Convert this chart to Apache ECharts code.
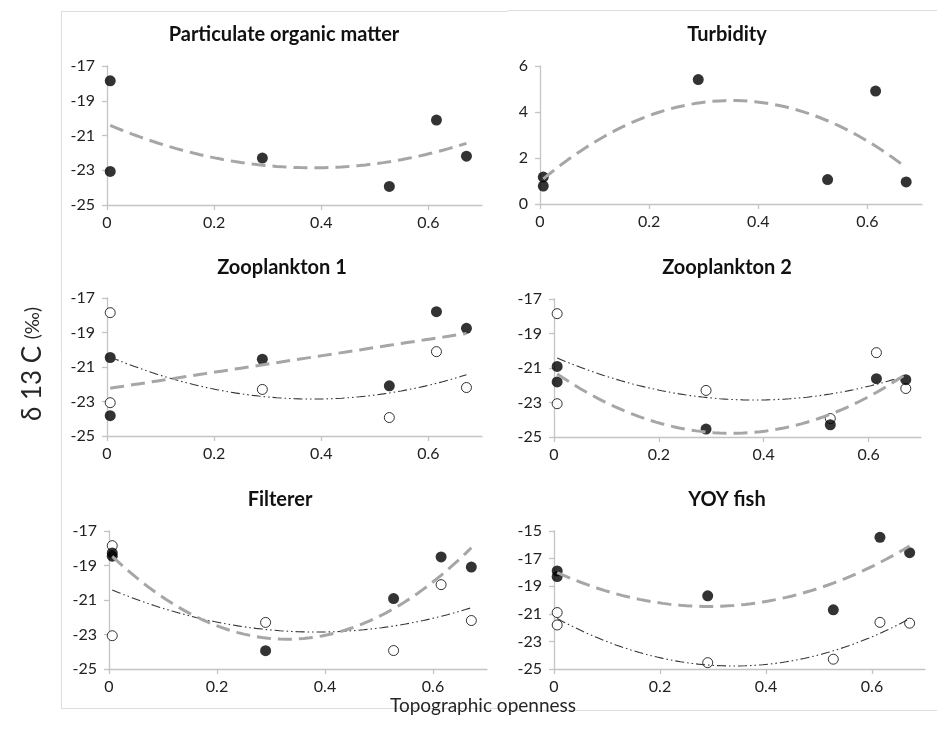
<!DOCTYPE html>
<html><head><meta charset="utf-8">
<script src="https://cdn.jsdelivr.net/npm/echarts@6/dist/echarts.min.js"></script>
<style>html,body{margin:0;padding:0;background:#fff}#c{width:937px;height:747px}</style>
</head><body><div id="c"></div>
<script>
// ---- data ----
const siteX      = [0.006, 0.006, 0.290, 0.527, 0.615, 0.671];
const pom        = [-17.85, -23.07, -22.30, -23.93, -20.11, -22.19];
const turbidity  = [1.17, 0.78, 5.41, 1.06, 4.91, 0.96];
const zoo1       = [-20.45, -23.82, -20.55, -22.09, -17.79, -18.76];
const zoo2       = [-20.91, -21.81, -24.54, -24.29, -21.62, -21.68];
const filterer   = [-18.27, -18.46, -23.94, -20.92, -18.50, -19.09];
const yoy        = [-17.89, -18.30, -19.70, -20.71, -15.46, -16.57];
const panelTitles = ['Particulate organic matter', 'Turbidity', 'Zooplankton 1', 'Zooplankton 2', 'Filterer', 'YOY fish'];
const xTickLabels = [0, 0.2, 0.4, 0.6];
const yTicksIsotope = [-25, -23, -21, -19, -17];
const yTicksTurbidity = [0, 2, 4, 6];
const yTicksYoy = [-25, -23, -21, -19, -17, -15];
const xAxisTitle = 'Topographic openness';

// ---- least-squares polynomial trend (as the original spreadsheet trendlines) ----
function polyfit(xs, ys, deg) {
  const n = deg + 1;
  const A = [], b = [];
  for (let i = 0; i < n; i++) {
    A.push([]);
    for (let j = 0; j < n; j++) A[i].push(xs.reduce((s, x) => s + Math.pow(x, i + j), 0));
    b.push(xs.reduce((s, x, k) => s + Math.pow(x, i) * ys[k], 0));
  }
  for (let i = 0; i < n; i++) {
    let p = i;
    for (let r = i + 1; r < n; r++) if (Math.abs(A[r][i]) > Math.abs(A[p][i])) p = r;
    [A[i], A[p]] = [A[p], A[i]]; [b[i], b[p]] = [b[p], b[i]];
    for (let r = i + 1; r < n; r++) {
      const f = A[r][i] / A[i][i];
      for (let c = i; c < n; c++) A[r][c] -= f * A[i][c];
      b[r] -= f * b[i];
    }
  }
  const co = new Array(n).fill(0);
  for (let i = n - 1; i >= 0; i--) {
    let s = b[i];
    for (let c = i + 1; c < n; c++) s -= A[i][c] * co[c];
    co[i] = s / A[i][i];
  }
  return co;
}
function trend(xs, ys, deg) {
  const co = polyfit(xs, ys, deg);
  const x0 = Math.min(...xs), x1 = Math.max(...xs);
  const out = [];
  const N = 60;
  for (let i = 0; i <= N; i++) {
    const x = x0 + (x1 - x0) * i / N;
    out.push([x, co.reduce((s, c, k) => s + c * Math.pow(x, k), 0)]);
  }
  return out;
}
const pairs = ys => siteX.map((x, i) => [x, ys[i]]);

const FONT = 'Lato';
const grids = [
  {left: 107, top: 66, width: 375, height: 139},
  {left: 540, top: 66, width: 382, height: 138},
  {left: 107, top: 298, width: 375, height: 138},
  {left: 554, top: 299, width: 367, height: 138},
  {left: 109, top: 531, width: 378, height: 138},
  {left: 554, top: 531, width: 371, height: 138}
];
const titlePos = [[284, 35], [727, 35], [282, 268], [727, 268], [280, 500], [727, 500]];
const yTickSets = [yTicksIsotope, yTicksTurbidity, yTicksIsotope, yTicksIsotope, yTicksIsotope, yTicksYoy];

const axisLineStyle = {color: '#c4c4c4', width: 1.3};
const xAxes = grids.map((g, i) => ({
  type: 'value', gridIndex: i, min: 0, max: 0.7, interval: 0.2,
  axisLine: {show: true, onZero: false, lineStyle: axisLineStyle},
  axisTick: {show: true, length: 5, inside: false, lineStyle: axisLineStyle, customValues: xTickLabels},
  axisLabel: {fontFamily: FONT, fontSize: 16, color: '#222', margin: 10, customValues: xTickLabels},
  splitLine: {show: false}
}));
const yAxes = grids.map((g, i) => {
  const t = yTickSets[i];
  return {
    type: 'value', gridIndex: i, min: t[0], max: t[t.length - 1], interval: 2,
    axisLine: {show: true, onZero: false, lineStyle: axisLineStyle},
    axisTick: {show: true, length: 5, lineStyle: axisLineStyle},
    axisLabel: {fontFamily: FONT, fontSize: 16, color: '#222', margin: 12},
    splitLine: {show: false}
  };
});

const filledStyle = {color: '#000'};
const openStyle = {color: '#fff', borderColor: '#000', borderWidth: 1};
const grayDash = {color: '#a6a6a6', width: 3, type: [14, 7], cap: 'butt'};
const blackDashDot = {color: '#333', width: 1.1, type: [9, 3, 1.5, 3, 1.5, 3]};

function filled(i, ys) {
  return {type: 'scatter', xAxisIndex: i, yAxisIndex: i, data: pairs(ys), symbolSize: 11, itemStyle: filledStyle, z: 3};
}
function open(i, ys) {
  return {type: 'scatter', xAxisIndex: i, yAxisIndex: i, data: pairs(ys), symbolSize: 10, itemStyle: openStyle, z: 3};
}
function line(i, ys, deg, style) {
  return {type: 'line', xAxisIndex: i, yAxisIndex: i, data: trend(siteX, ys, deg), showSymbol: false, symbol: 'none', lineStyle: style, z: 4, silent: true};
}

const series = [
  filled(0, pom), line(0, pom, 2, grayDash),
  filled(1, turbidity), line(1, turbidity, 2, grayDash),
  open(2, pom), filled(2, zoo1), line(2, pom, 2, blackDashDot), line(2, zoo1, 1, grayDash),
  open(3, pom), filled(3, zoo2), line(3, pom, 2, blackDashDot), line(3, zoo2, 2, grayDash),
  open(4, pom), filled(4, filterer), line(4, pom, 2, blackDashDot), line(4, filterer, 2, grayDash),
  open(5, zoo2), filled(5, yoy), line(5, zoo2, 2, blackDashDot), line(5, yoy, 2, grayDash)
];

const frameStyle = {stroke: '#dedede', lineWidth: 1};
const graphic = [
  {type: 'line', shape: {x1: 61, y1: 11.5, x2: 508, y2: 11.5}, style: frameStyle},
  {type: 'line', shape: {x1: 508, y1: 10.5, x2: 937, y2: 10.5}, style: frameStyle},
  {type: 'line', shape: {x1: 61.5, y1: 11, x2: 61.5, y2: 708}, style: frameStyle},
  {type: 'line', shape: {x1: 61, y1: 708.5, x2: 507, y2: 708.5}, style: frameStyle},
  {type: 'line', shape: {x1: 507, y1: 710.5, x2: 937, y2: 710.5}, style: frameStyle}
];
panelTitles.forEach((t, i) => {
  graphic.push({type: 'text', x: titlePos[i][0], y: titlePos[i][1],
    style: {text: t, font: 'bold 20px ' + FONT, fill: '#111', align: 'center', verticalAlign: 'middle'}});
});
graphic.push({type: 'text', x: 483, y: 706,
  style: {text: xAxisTitle, font: '19px ' + FONT, fill: '#262626', align: 'center', verticalAlign: 'middle'}});
graphic.push({type: 'text', x: 33, y: 364, rotation: Math.PI / 2,
  style: {text: '{a|δ 13 C }{b|(‰)}', align: 'center', verticalAlign: 'middle',
    rich: {a: {fontFamily: FONT, fontSize: 26, fill: '#262626', color: '#262626'}, b: {fontFamily: FONT, fontSize: 19, color: '#262626', fill: '#262626'}}}});

const chart = echarts.init(document.getElementById('c'), null, {renderer: 'canvas'});
chart.setOption({
  animation: false,
  backgroundColor: '#fff',
  grid: grids,
  xAxis: xAxes,
  yAxis: yAxes,
  series: series,
  graphic: graphic
});
</script></body></html>
